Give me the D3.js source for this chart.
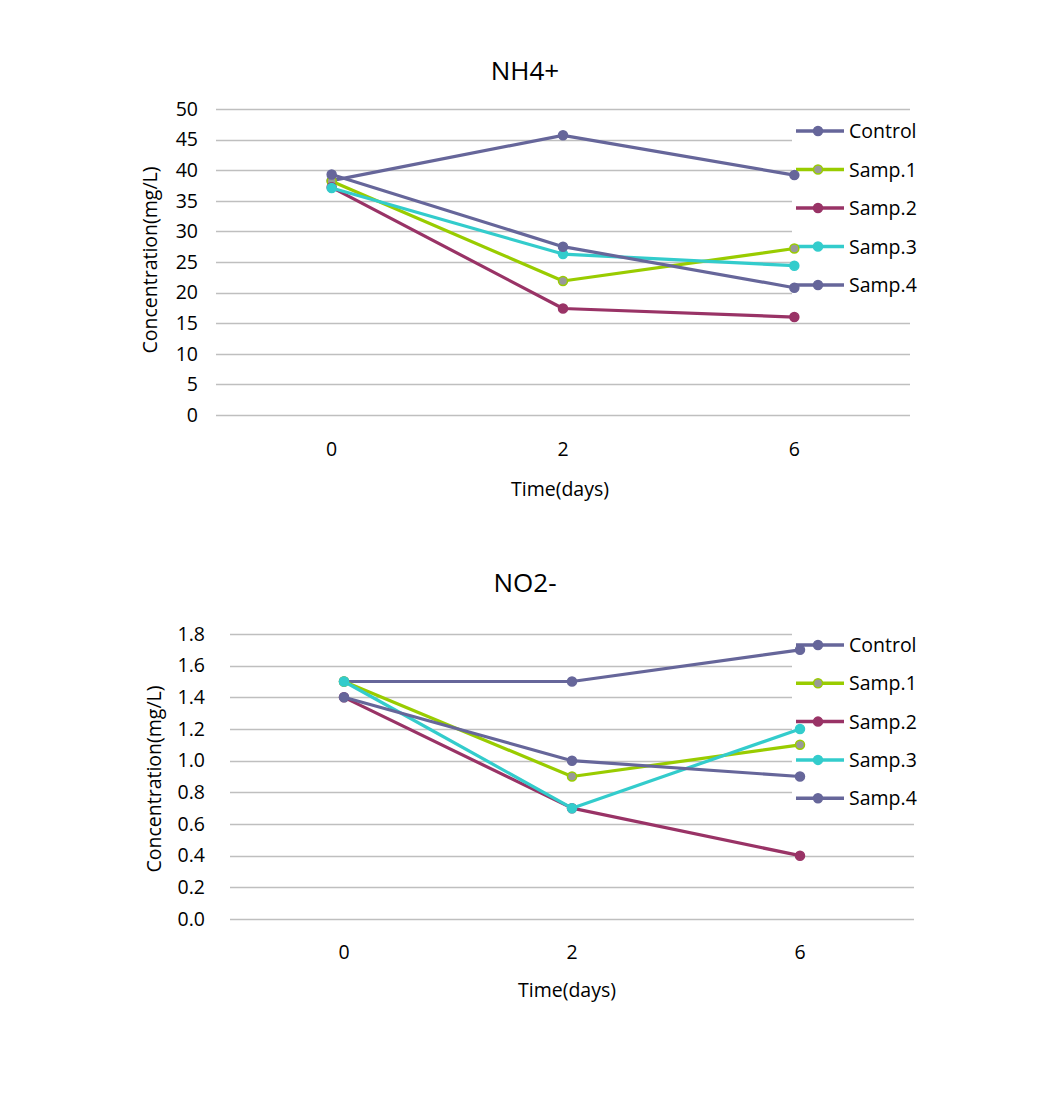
<!DOCTYPE html>
<html>
<head>
<meta charset="utf-8">
<script src="https://cdn.jsdelivr.net/npm/d3@7"></script>
<style>
  body { margin: 0; background: #fff; }
  svg { display: block; font-family: "Open Sans", "Noto Sans", sans-serif; }
</style>
</head>
<body>
<svg id="chart" width="1058" height="1108"></svg>
<script>
// ---- Data ----
const categories = ["0", "2", "6"];
const seriesNames = ["Control", "Samp.1", "Samp.2", "Samp.3", "Samp.4"];
const seriesColors = ["#66669a", "#99cc00", "#993366", "#33cccc", "#66669a"];
const markerFills = ["#66669a", "#999999", "#993366", "#33cccc", "#66669a"];

const nh4Control = [38.3, 45.7, 39.2];
const nh4Samp1 = [38.2, 21.9, 27.2];
const nh4Samp2 = [37.2, 17.4, 16.0];
const nh4Samp3 = [37.1, 26.3, 24.4];
const nh4Samp4 = [39.3, 27.5, 20.8];
const nh4Ticks = [0, 5, 10, 15, 20, 25, 30, 35, 40, 45, 50];

const no2Control = [1.5, 1.5, 1.7];
const no2Samp1 = [1.5, 0.9, 1.1];
const no2Samp2 = [1.4, 0.7, 0.4];
const no2Samp3 = [1.5, 0.7, 1.2];
const no2Samp4 = [1.4, 1.0, 0.9];
const no2Ticks = [0, 0.2, 0.4, 0.6, 0.8, 1.0, 1.2, 1.4, 1.6, 1.8];

const svg = d3.select("#chart");
const FS = 19.5;

function drawChart(cfg) {
  const g = svg.append("g");
  const x = d3.scaleBand().domain(categories).range([cfg.left, cfg.right]);
  const y = d3.scaleLinear().domain([0, cfg.max]).range([cfg.bottom, cfg.top]);

  // title
  g.append("text").attr("x", cfg.titleX).attr("y", cfg.titleY)
    .attr("text-anchor", "middle").attr("font-size", 26).attr("fill", "#000")
    .text(cfg.title);

  // gridlines
  g.append("g").selectAll("line").data(cfg.ticks).join("line")
    .attr("x1", cfg.left).attr("x2", cfg.right)
    .attr("y1", d => Math.round(y(d)) + 0.5).attr("y2", d => Math.round(y(d)) + 0.5)
    .attr("stroke", "#bfbfbf").attr("stroke-width", 1.5);

  // y axis labels
  const yAxis = d3.axisLeft(y).tickValues(cfg.ticks).tickSize(0).tickPadding(0)
    .tickFormat(cfg.fmt);
  const ya = g.append("g").attr("transform", `translate(${cfg.yLabelX},0)`).call(yAxis);
  ya.select(".domain").remove();
  ya.selectAll("text").attr("font-size", FS).attr("fill", "#000")
    .attr("font-family", "\"Open Sans\", sans-serif");

  // x axis labels
  const xAxis = d3.axisBottom(x).tickSize(0).tickPadding(0);
  const xa = g.append("g").attr("transform", `translate(0,${cfg.xLabelY})`).call(xAxis);
  xa.select(".domain").remove();
  xa.selectAll("text").attr("font-size", FS).attr("fill", "#000")
    .attr("y", 0).attr("dy", "0.36em")
    .attr("font-family", "\"Open Sans\", sans-serif");

  // axis titles
  g.append("text").attr("x", cfg.xTitleX).attr("y", cfg.xTitleY)
    .attr("text-anchor", "middle").attr("font-size", FS).attr("fill", "#000")
    .text("Time(days)");
  g.append("text")
    .attr("transform", `translate(${cfg.yTitleX},${cfg.yTitleY}) rotate(-90)`)
    .attr("text-anchor", "middle").attr("font-size", FS).attr("fill", "#000")
    .text("Concentration(mg/L)");

  // legend
  const lg = g.append("g");
  lg.append("rect").attr("x", cfg.legX - 4).attr("y", cfg.legBgTop)
    .attr("width", cfg.right - cfg.legX + 6).attr("height", cfg.legBgBottom - cfg.legBgTop)
    .attr("fill", "#fff");
  seriesNames.forEach((name, i) => {
    const ly = cfg.legY0 + i * cfg.legStep;
    lg.append("line").attr("x1", cfg.legX).attr("x2", cfg.legX + 48)
      .attr("y1", ly).attr("y2", ly)
      .attr("stroke", seriesColors[i]).attr("stroke-width", 3.5);
    lg.append("circle").attr("cx", cfg.legX + 22).attr("cy", ly).attr("r", 4.5)
      .attr("fill", markerFills[i]).attr("stroke", seriesColors[i]).attr("stroke-width", 1.5);
    lg.append("text").attr("x", cfg.legX + 53).attr("y", ly).attr("dy", "0.36em")
      .attr("font-size", FS).attr("fill", "#000").text(name);
  });

  // series
  const line = d3.line().x((d, i) => x(categories[i]) + x.bandwidth() / 2).y(d => y(d));
  cfg.series.forEach((vals, si) => {
    const sg = g.append("g");
    sg.append("path").attr("d", line(vals)).attr("fill", "none")
      .attr("stroke", seriesColors[si]).attr("stroke-width", 3.2)
      .attr("stroke-linejoin", "round");
    sg.selectAll("circle").data(vals).join("circle")
      .attr("cx", (d, i) => x(categories[i]) + x.bandwidth() / 2)
      .attr("cy", d => y(d)).attr("r", 4.5)
      .attr("fill", markerFills[si]).attr("stroke", seriesColors[si]).attr("stroke-width", 1.5);
  });
}

drawChart({
  title: "NH4+", titleX: 525, titleY: 80,
  left: 216, right: 910, top: 109, bottom: 415, max: 50,
  ticks: nh4Ticks, fmt: d3.format("d"),
  yLabelX: 198, xLabelY: 449,
  xTitleX: 560, xTitleY: 496, yTitleX: 157, yTitleY: 260,
  legX: 796, legY0: 131, legStep: 38.5, legBgTop: 113, legBgBottom: 305,
  series: [nh4Control, nh4Samp1, nh4Samp2, nh4Samp3, nh4Samp4]
});

drawChart({
  title: "NO2-", titleX: 525, titleY: 592,
  left: 230, right: 914, top: 634, bottom: 919, max: 1.8,
  ticks: no2Ticks, fmt: d3.format(".1f"),
  yLabelX: 205, xLabelY: 952,
  xTitleX: 567, xTitleY: 997, yTitleX: 161, yTitleY: 779,
  legX: 796, legY0: 645, legStep: 38.3, legBgTop: 628, legBgBottom: 815,
  series: [no2Control, no2Samp1, no2Samp2, no2Samp3, no2Samp4]
});
</script>
</body>
</html>
